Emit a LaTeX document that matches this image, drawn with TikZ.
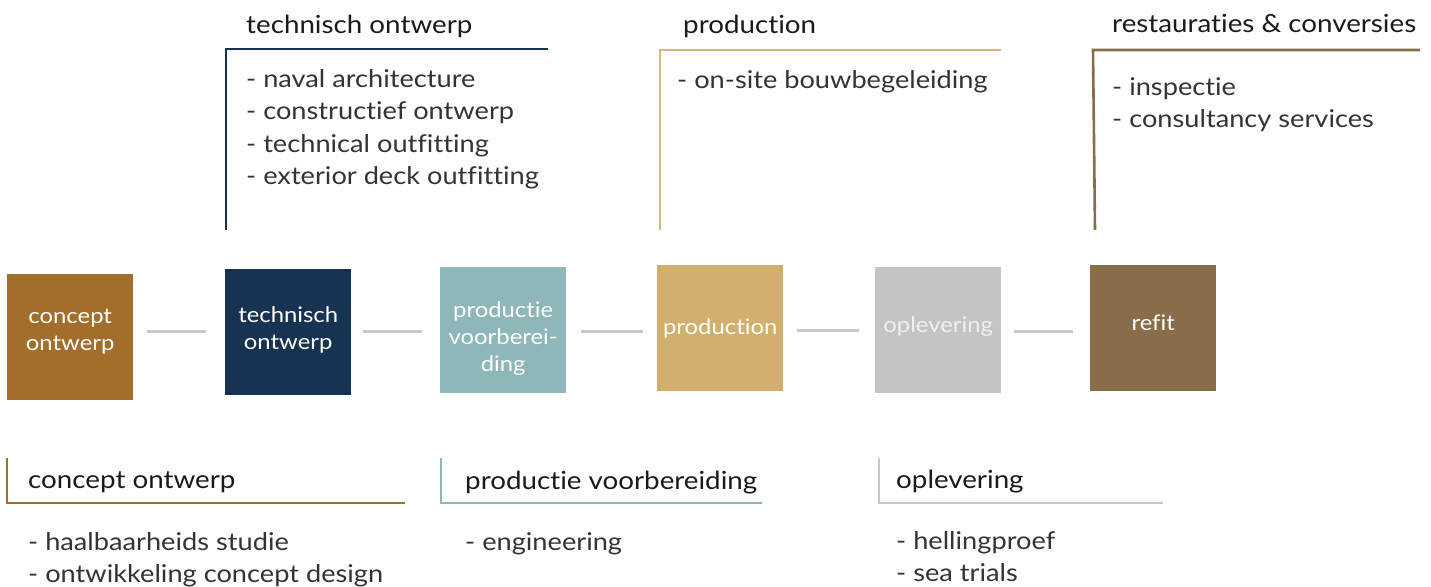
\documentclass[tikz,border=0pt]{standalone}
\usepackage{fontspec}
\setmainfont{Lato}[FakeStretch=1.11,Ligatures=NoCommon]
\definecolor{cconcept}{HTML}{A36E2B}
\definecolor{ctech}{HTML}{173352}
\definecolor{cprep}{HTML}{8FB6B8}
\definecolor{cprod}{HTML}{D3AF6E}
\definecolor{cdeliv}{HTML}{C4C4C4}
\definecolor{crefit}{HTML}{876D4A}
\definecolor{cconn}{HTML}{C8C8C8}
\definecolor{ctext}{HTML}{1A1A1A}
\definecolor{citem}{HTML}{333333}
\begin{document}
\begin{tikzpicture}[x=1pt,y=-1pt,
  phasebox/.style={minimum width=126pt,minimum height=126pt,inner sep=0pt,anchor=north west},
  boxtext/.style={inner sep=0pt,text=white,align=center,font=\fontsize{21.5}{27}\selectfont},
  head/.style={anchor=base west,inner sep=0pt,text=ctext,font=\fontsize{25}{30}\selectfont},
  item/.style={anchor=base west,inner sep=0pt,text=citem,font=\fontsize{24.5}{30}\selectfont},
  conn/.style={draw=cconn,line width=3pt},
  bracket/.style={line width=2.6pt}]
\useasboundingbox (0,0) rectangle (1431,586);

% phase boxes
\node[phasebox,fill=cconcept] (b1) at (7,274) {};
\node[phasebox,fill=ctech] (b2) at (225,269) {};
\node[phasebox,fill=cprep] (b3) at (440,267) {};
\node[phasebox,fill=cprod] (b4) at (657,265) {};
\node[phasebox,fill=cdeliv] (b5) at (875,267) {};
\node[phasebox,fill=crefit] (b6) at (1090,265) {};
\node[boxtext] (b1t) at ([yshift=6pt]b1.center) {concept\\ontwerp};
\node[boxtext] (b2t) at ([yshift=2pt]b2.center) {technisch\\ontwerp};
\node[boxtext] (b3t) at ([yshift=-8pt]b3.center) {productie\\voorberei-\\ding};
\node[boxtext] (b4t) at ([yshift=0pt]b4.center) {production};
\node[boxtext,text=white!94!black] (b5t) at ([yshift=4pt]b5.center) {oplevering};
\node[boxtext] (b6t) at ([yshift=5pt]b6.center) {refit};

% connectors
\draw[conn] ([xshift=14pt]b1.east |- 0,331) -- ([xshift=-19pt]b2.west |- 0,331);
\draw[conn] ([xshift=12pt]b2.east |- 0,331) -- ([xshift=-18pt]b3.west |- 0,331);
\draw[conn] ([xshift=15pt]b3.east |- 0,331) -- ([xshift=-14pt]b4.west |- 0,331);
\draw[conn] ([xshift=14pt]b4.east |- 0,330) -- ([xshift=-16pt]b5.west |- 0,330);
\draw[conn] ([xshift=13pt]b5.east |- 0,331) -- ([xshift=-17pt]b6.west |- 0,331);

% top: technisch ontwerp
\coordinate (t2a) at (226,230);
\coordinate (t2b) at (226,49);
\coordinate (t2c) at (548,49);
\draw[bracket,draw=ctech] (t2a) -- (t2b) -- (t2c);
\node[head] (h2) at (246,34) {technisch ontwerp};
\node[item] (i21) at (246,87) {- naval architecture};
\node[item] (i22) at (246,119.5) {- constructief ontwerp};
\node[item] (i23) at (246,152) {- technical outfitting};
\node[item] (i24) at (246,184.5) {- exterior deck outfitting};

% top: production
\coordinate (t4a) at (660,230);
\coordinate (t4b) at (660,50);
\coordinate (t4c) at (1001,50);
\draw[bracket,draw=cprod!90!white] (t4a) -- (t4b) -- (t4c);
\node[head] (h4) at (683,34) {production};
\node[item] (i41) at (677,88) {- on-site bouwbegeleiding};

% top: restauraties & conversies
\coordinate (t6a) at (1095,230);
\coordinate (t6b) at (1093,50);
\coordinate (t6c) at (1420,50);
\draw[bracket,draw=crefit] (t6a) -- (t6b) -- (t6c);
\node[head] (h6) at (1112,33) {restauraties \& conversies};
\node[item] (i61) at (1112,95) {- inspectie};
\node[item] (i62) at (1112,127.5) {- consultancy services};

% bottom: concept ontwerp
\coordinate (d1a) at (7,458);
\coordinate (d1b) at (7,503);
\coordinate (d1c) at (405,503);
\draw[bracket,draw=cconcept] (d1a) -- (d1b) -- (d1c);
\node[head] (h1) at (28,488) {concept ontwerp};
\node[item] (i11) at (28,550) {- haalbaarheids studie};
\node[item] (i12) at (28,582.5) {- ontwikkeling concept design};

% bottom: productie voorbereiding
\coordinate (d3a) at (441,458);
\coordinate (d3b) at (441,503);
\coordinate (d3c) at (762,503);
\draw[bracket,draw=cprep] (d3a) -- (d3b) -- (d3c);
\node[head] (h3) at (465,489) {productie voorbereiding};
\node[item] (i31) at (465,550) {- engineering};

% bottom: oplevering
\coordinate (d5a) at (879,458);
\coordinate (d5b) at (879,503);
\coordinate (d5c) at (1163,503);
\draw[bracket,draw=cconn] (d5a) -- (d5b) -- (d5c);
\node[head] (h5) at (896,488) {oplevering};
\node[item] (i51) at (896,549) {- hellingproef};
\node[item] (i52) at (896,581.5) {- sea trials};
\end{tikzpicture}
\end{document}
